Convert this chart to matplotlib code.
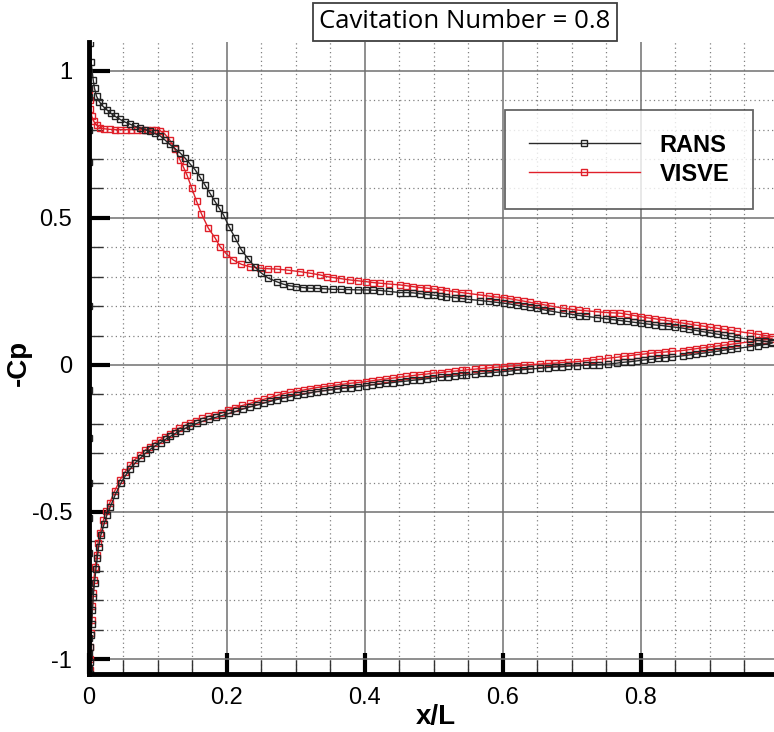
import numpy as np
import matplotlib
matplotlib.use("Agg")
import matplotlib.pyplot as plt
from matplotlib.ticker import MultipleLocator
from matplotlib.lines import Line2D

# ---------------- data ----------------
rans_upper_x = [0.0015, 0.003, 0.006, 0.008, 0.011, 0.015, 0.020, 0.026, 0.032, 0.038, 0.045, 0.052,
                0.060, 0.067, 0.074, 0.081, 0.088, 0.095, 0.103, 0.110, 0.117, 0.124, 0.132, 0.139,
                0.146, 0.154, 0.161, 0.168, 0.175, 0.182, 0.189, 0.195, 0.203, 0.212, 0.221, 0.231,
                0.241, 0.250, 0.260, 0.272, 0.281, 0.291, 0.300, 0.310, 0.320, 0.330, 0.340, 0.354,
                0.365, 0.375, 0.390, 0.402, 0.412, 0.422, 0.435, 0.451, 0.460, 0.470, 0.480, 0.490,
                0.500, 0.510, 0.518, 0.530, 0.540, 0.550, 0.567, 0.580, 0.590, 0.601, 0.610, 0.620,
                0.630, 0.639, 0.650, 0.660, 0.670, 0.687, 0.700, 0.710, 0.720, 0.736, 0.750, 0.760,
                0.770, 0.780, 0.790, 0.800, 0.810, 0.820, 0.830, 0.840, 0.850, 0.861, 0.870, 0.880,
                0.890, 0.900, 0.910, 0.920, 0.930, 0.940, 0.958, 0.970, 0.980, 0.990]
rans_upper_cp = [1.095, 1.030, 0.970, 0.940, 0.913, 0.895, 0.880, 0.867, 0.855, 0.845, 0.835, 0.826,
                 0.818, 0.811, 0.806, 0.800, 0.794, 0.787, 0.779, 0.765, 0.750, 0.737, 0.721, 0.704,
                 0.685, 0.663, 0.638, 0.612, 0.585, 0.558, 0.532, 0.510, 0.470, 0.431, 0.391, 0.360,
                 0.332, 0.312, 0.295, 0.283, 0.275, 0.269, 0.266, 0.263, 0.261, 0.260, 0.259, 0.257,
                 0.257, 0.256, 0.255, 0.255, 0.254, 0.253, 0.250, 0.246, 0.246, 0.245, 0.242, 0.239,
                 0.237, 0.234, 0.232, 0.229, 0.226, 0.223, 0.219, 0.216, 0.213, 0.210, 0.207, 0.203,
                 0.199, 0.196, 0.192, 0.187, 0.183, 0.176, 0.172, 0.168, 0.165, 0.161, 0.157, 0.154,
                 0.151, 0.148, 0.145, 0.142, 0.139, 0.136, 0.134, 0.131, 0.128, 0.125, 0.121, 0.117,
                 0.113, 0.109, 0.105, 0.101, 0.097, 0.093, 0.087, 0.083, 0.080, 0.077]
rans_nose_cp = [0.91, 0.80, 0.69, 0.20, -0.085, -0.25, -0.40, -0.52, -0.64, -0.77, -0.93, -0.98, -1.03]
rans_lower_x = [0.001, 0.001, 0.002, 0.003, 0.004, 0.005, 0.006, 0.008, 0.010, 0.012, 0.014, 0.017,
                0.022, 0.026, 0.031, 0.038, 0.046, 0.053, 0.060, 0.067, 0.075, 0.082, 0.089, 0.096,
                0.104, 0.111, 0.118, 0.125, 0.132, 0.140, 0.147, 0.156, 0.165, 0.174, 0.184, 0.193,
                0.203, 0.213, 0.223, 0.233, 0.243, 0.253, 0.263, 0.272, 0.282, 0.292, 0.302, 0.312,
                0.321, 0.330, 0.340, 0.350, 0.360, 0.370, 0.380, 0.390, 0.401, 0.410, 0.420, 0.430,
                0.440, 0.451, 0.460, 0.470, 0.480, 0.490, 0.499, 0.510, 0.520, 0.530, 0.540, 0.547,
                0.560, 0.570, 0.580, 0.590, 0.601, 0.610, 0.620, 0.630, 0.640, 0.654, 0.665, 0.675,
                0.685, 0.695, 0.707, 0.720, 0.730, 0.740, 0.753, 0.765, 0.775, 0.785, 0.795, 0.805,
                0.815, 0.825, 0.835, 0.845, 0.861, 0.870, 0.880, 0.890, 0.900, 0.910, 0.920, 0.930,
                0.940, 0.958, 0.970, 0.980, 0.990]
rans_lower_cp = [-1.050, -1.010, -0.960, -0.920, -0.880, -0.835, -0.790, -0.740, -0.695, -0.655, -0.618, -0.580,
                 -0.540, -0.510, -0.482, -0.442, -0.403, -0.376, -0.353, -0.333, -0.316, -0.300, -0.287, -0.275,
                 -0.264, -0.253, -0.243, -0.233, -0.224, -0.215, -0.207, -0.199, -0.191, -0.184, -0.178, -0.172,
                 -0.165, -0.158, -0.150, -0.143, -0.137, -0.130, -0.124, -0.118, -0.113, -0.108, -0.104, -0.099,
                 -0.095, -0.091, -0.088, -0.085, -0.082, -0.079, -0.077, -0.074, -0.071, -0.068, -0.066, -0.063,
                 -0.060, -0.057, -0.055, -0.052, -0.050, -0.047, -0.045, -0.042, -0.040, -0.038, -0.036, -0.034,
                 -0.031, -0.029, -0.027, -0.025, -0.023, -0.021, -0.018, -0.016, -0.014, -0.011, -0.009, -0.007,
                 -0.006, -0.004, -0.003, -0.001, 0.000, 0.001, 0.003, 0.006, 0.009, 0.011, 0.014, 0.017,
                 0.019, 0.022, 0.025, 0.027, 0.031, 0.034, 0.037, 0.040, 0.043, 0.046, 0.050, 0.053,
                 0.056, 0.062, 0.066, 0.070, 0.074]

visve_upper_x = [0.000, 0.001, 0.002, 0.004, 0.007, 0.011, 0.016, 0.022, 0.030, 0.038, 0.045, 0.053,
                 0.061, 0.069, 0.077, 0.084, 0.091, 0.097, 0.103, 0.110, 0.117, 0.124, 0.132, 0.137,
                 0.142, 0.149, 0.156, 0.163, 0.173, 0.183, 0.190, 0.199, 0.209, 0.221, 0.233, 0.248,
                 0.260, 0.272, 0.289, 0.306, 0.320, 0.335, 0.345, 0.354, 0.366, 0.378, 0.390, 0.402,
                 0.412, 0.422, 0.435, 0.451, 0.460, 0.470, 0.480, 0.490, 0.500, 0.510, 0.518, 0.530,
                 0.540, 0.550, 0.567, 0.580, 0.590, 0.601, 0.610, 0.620, 0.630, 0.639, 0.650, 0.660,
                 0.670, 0.687, 0.700, 0.710, 0.720, 0.736, 0.750, 0.760, 0.770, 0.780, 0.790, 0.800,
                 0.810, 0.820, 0.830, 0.840, 0.850, 0.861, 0.870, 0.880, 0.890, 0.900, 0.910, 0.920,
                 0.930, 0.940, 0.958, 0.970, 0.980, 0.990]
visve_upper_cp = [0.935, 0.900, 0.870, 0.845, 0.828, 0.815, 0.806, 0.803, 0.801, 0.800, 0.800, 0.800,
                  0.800, 0.800, 0.800, 0.800, 0.799, 0.798, 0.797, 0.785, 0.765, 0.735, 0.697, 0.672,
                  0.646, 0.601, 0.556, 0.514, 0.465, 0.431, 0.402, 0.378, 0.357, 0.342, 0.334, 0.329,
                  0.327, 0.326, 0.322, 0.317, 0.312, 0.306, 0.300, 0.297, 0.293, 0.289, 0.286, 0.283,
                  0.280, 0.278, 0.275, 0.272, 0.269, 0.266, 0.263, 0.261, 0.258, 0.255, 0.253, 0.249,
                  0.246, 0.243, 0.238, 0.234, 0.231, 0.229, 0.225, 0.221, 0.217, 0.213, 0.208, 0.204,
                  0.200, 0.193, 0.189, 0.186, 0.184, 0.181, 0.178, 0.177, 0.176, 0.172, 0.168, 0.164,
                  0.160, 0.157, 0.153, 0.150, 0.146, 0.142, 0.139, 0.135, 0.132, 0.128, 0.125, 0.121,
                  0.118, 0.114, 0.108, 0.104, 0.100, 0.096]
visve_lower_x = [0.001, 0.001, 0.002, 0.003, 0.004, 0.005, 0.006, 0.007, 0.009, 0.011, 0.013, 0.016,
                 0.021, 0.025, 0.030, 0.037, 0.045, 0.052, 0.059, 0.066, 0.074, 0.081, 0.088, 0.095,
                 0.103, 0.110, 0.117, 0.124, 0.131, 0.139, 0.146, 0.155, 0.164, 0.173, 0.183, 0.192,
                 0.202, 0.212, 0.222, 0.233, 0.243, 0.253, 0.263, 0.272, 0.282, 0.292, 0.302, 0.312,
                 0.321, 0.330, 0.340, 0.350, 0.360, 0.370, 0.380, 0.390, 0.401, 0.410, 0.420, 0.430,
                 0.440, 0.451, 0.460, 0.470, 0.480, 0.490, 0.499, 0.510, 0.520, 0.530, 0.540, 0.547,
                 0.560, 0.570, 0.580, 0.590, 0.601, 0.610, 0.620, 0.630, 0.640, 0.654, 0.665, 0.675,
                 0.685, 0.695, 0.707, 0.720, 0.730, 0.740, 0.753, 0.765, 0.775, 0.785, 0.795, 0.805,
                 0.815, 0.825, 0.835, 0.845, 0.861, 0.870, 0.880, 0.890, 0.900, 0.910, 0.920, 0.930,
                 0.940, 0.958, 0.970, 0.980, 0.990]
visve_lower_cp = [-1.037, -1.000, -0.958, -0.910, -0.867, -0.820, -0.777, -0.730, -0.686, -0.645, -0.607, -0.570,
                  -0.527, -0.497, -0.470, -0.430, -0.391, -0.365, -0.342, -0.323, -0.306, -0.291, -0.278, -0.266,
                  -0.255, -0.244, -0.234, -0.224, -0.215, -0.206, -0.198, -0.190, -0.182, -0.175, -0.169, -0.164,
                  -0.152, -0.145, -0.138, -0.131, -0.124, -0.117, -0.110, -0.104, -0.098, -0.093, -0.089, -0.085,
                  -0.081, -0.077, -0.074, -0.071, -0.068, -0.065, -0.062, -0.060, -0.057, -0.054, -0.051, -0.048,
                  -0.045, -0.042, -0.039, -0.036, -0.033, -0.031, -0.028, -0.026, -0.023, -0.021, -0.019, -0.017,
                  -0.014, -0.012, -0.010, -0.008, -0.006, -0.004, -0.003, -0.001, 0.001, 0.003, 0.005, 0.006,
                  0.008, 0.009, 0.011, 0.014, 0.017, 0.019, 0.023, 0.026, 0.029, 0.032, 0.035, 0.037,
                  0.040, 0.042, 0.044, 0.046, 0.049, 0.052, 0.055, 0.058, 0.061, 0.064, 0.067, 0.070,
                  0.073, 0.079, 0.083, 0.086, 0.089]

series_labels = ["RANS", "VISVE"]
title_text = "Cavitation Number = 0.8"
x_ticks = [0, 0.2, 0.4, 0.6, 0.8]
x_tick_labels = ["0", "0.2", "0.4", "0.6", "0.8"]
y_ticks = [-1, -0.5, 0, 0.5, 1]
y_tick_labels = ["-1", "-0.5", "0", "0.5", "1"]

# ---------------- figure ----------------
W, H = 774, 732
AX_L, AX_R, AX_T, AX_B = 89, 774, 42, 674
fig = plt.figure(figsize=(W / 100, H / 100), dpi=100)
ax = fig.add_axes([AX_L / W, 1 - AX_B / H, (AX_R - AX_L) / W, (AX_B - AX_T) / H])

ax.set_xlim(0, 0.993)
ax.set_ylim(-1.051, 1.098)

black_line = "#2a2a2a"
red_line = "#e0202a"

rx = list(reversed(rans_upper_x)) + [0.0] * len(rans_nose_cp) + rans_lower_x
ry = list(reversed(rans_upper_cp)) + rans_nose_cp + rans_lower_cp
vx = list(reversed(visve_upper_x)) + visve_lower_x
vy = list(reversed(visve_upper_cp)) + visve_lower_cp

mk = dict(marker="s", markersize=4.4, markerfacecolor="none", markeredgewidth=1.0, linewidth=1.0,
          clip_on=True)
ax.plot(vx, vy, color=red_line, markeredgecolor="#e0202a", zorder=3, **mk)
ax.plot(rx, ry, color=black_line, markeredgecolor="#222222", zorder=4, **mk)

# grid
ax.xaxis.set_major_locator(MultipleLocator(0.2))
ax.xaxis.set_minor_locator(MultipleLocator(0.05))
ax.yaxis.set_major_locator(MultipleLocator(0.5))
ax.yaxis.set_minor_locator(MultipleLocator(0.1))
ax.grid(which="major", color="#707070", linewidth=1.1, linestyle="-", zorder=1)
ax.grid(which="minor", color="#808080", linewidth=0.9, linestyle=(0, (1, 2.5)), zorder=1)
ax.set_axisbelow(True)

ax.set_xticks(x_ticks)
ax.set_xticklabels(x_tick_labels)
ax.set_yticks(y_ticks)
ax.set_yticklabels(y_tick_labels)

for lab in ax.get_xticklabels() + ax.get_yticklabels():
    lab.set_fontfamily("Liberation Sans")
    lab.set_fontsize(17)

ax.tick_params(which="major", direction="in", length=15, width=3, color="black", pad=9)
ax.tick_params(axis="y", which="major", pad=12)
ax.tick_params(which="minor", direction="in", length=10, width=1, color="#333333")
ax.tick_params(top=False, right=False, which="both")

for s in ["top", "right"]:
    ax.spines[s].set_visible(False)
ax.spines["left"].set_linewidth(3.5)
ax.spines["bottom"].set_linewidth(3.5)
ax.spines["left"].set_zorder(5)
ax.spines["bottom"].set_zorder(5)

ax.set_xlabel("x/L", family="Liberation Sans", fontsize=20, fontweight="bold")
ax.set_ylabel("-Cp", family="Liberation Sans", fontsize=20, fontweight="bold")
ax.xaxis.label.set_va("center")
ax.yaxis.label.set_va("center")
ax.xaxis.set_label_coords(0.5 + (436 - (AX_L + AX_R) / 2) / (AX_R - AX_L), -(717 - AX_B) / (AX_B - AX_T))
ax.yaxis.set_label_coords(-(AX_L - 19) / (AX_R - AX_L), 0.5 + ((AX_B + AX_T) / 2 - 363) / (AX_B - AX_T))

# legend
handles = [
    Line2D([], [], color=black_line, marker="s", markersize=4.4, markerfacecolor="none",
           markeredgecolor="#222222", markeredgewidth=1.0, linewidth=1.0),
    Line2D([], [], color=red_line, marker="s", markersize=4.4, markerfacecolor="none",
           markeredgecolor="#e0202a", markeredgewidth=1.0, linewidth=1.0),
]
leg = ax.legend(handles, series_labels, loc="upper right", bbox_to_anchor=(753 / W, 1 - 110 / H),
                bbox_transform=fig.transFigure, borderaxespad=0, frameon=True, fancybox=False,
                numpoints=1, handlelength=4.7, handletextpad=0.85, borderpad=1.0, labelspacing=0.25,
                prop=dict(family="Liberation Sans", size=17, weight="bold"))
leg.get_frame().set_edgecolor("#404040")
leg.get_frame().set_linewidth(1.3)
leg.get_frame().set_facecolor("white")
leg.set_zorder(10)

# title box
fig.text(465 / W, 1 - 22 / H, title_text, ha="center", va="center", family="Open Sans", fontsize=18.5,
         bbox=dict(boxstyle="square,pad=0.25", facecolor="white", edgecolor="#404040", linewidth=1.3))

fig.savefig("out.png", dpi=100)
